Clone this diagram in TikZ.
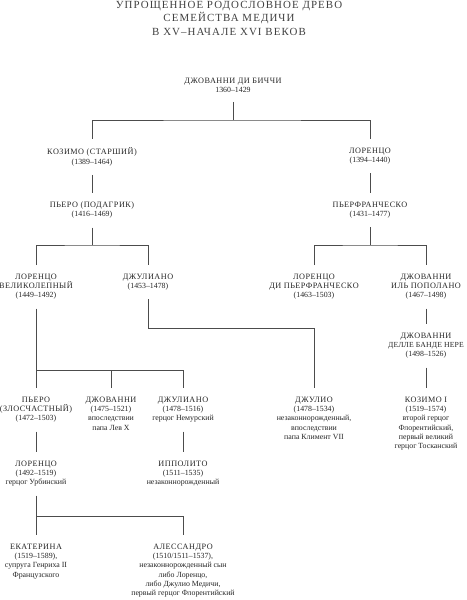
\documentclass[tikz,border=0pt]{standalone}
\usepackage{fontspec}
\setmainfont{Liberation Serif}
\newfontfamily\namefam[LetterSpace=6]{Liberation Serif}
\newfontfamily\titlefam[LetterSpace=10]{Liberation Serif}
\usetikzlibrary{positioning}

\newcommand{\nm}[1]{{\namefam\fontsize{7}{8}\selectfont #1}}
\newcommand{\nmtight}[1]{{\namefam\fontsize{6.6}{8}\selectfont
  \addfontfeature{LetterSpace=2}#1}}
\newcommand{\descfont}{\fontsize{6.7}{7.9}\selectfont}

\tikzset{
  person/.style={anchor=north, align=center, inner xsep=1pt, inner ysep=7.5pt,
    font=\descfont, text=black!85},
  famline/.style={draw=black!70, line width=0.65pt},
}

\begin{document}
\begin{tikzpicture}[x=0.03cm, y=-0.03cm]
  \useasboundingbox (0,0) rectangle (466,600);
  % Title
  \node[anchor=north, align=center, inner sep=0.5pt, text=black!75,
    font=\titlefam\fontsize{9.3}{11.6}\selectfont]
    (title) at (229,0) {УПРОЩЕННОЕ РОДОСЛОВНОЕ ДРЕВО\\
      СЕМЕЙСТВА МЕДИЧИ\\ В XV–НАЧАЛЕ XVI ВЕКОВ};

  % Generation 1
  \node[person] (bicci) at (233,69) {\nm{ДЖОВАННИ ДИ БИЧЧИ}\\ 1360–1429};
  % Generation 2
  \node[person] (kozimo) at (92,139) {\nm{КОЗИМО (СТАРШИЙ)}\\ (1389–1464)};
  \node[person] (lorenzo) at (370,139) {\nm{ЛОРЕНЦО}\\ (1394–1440)};
  % Generation 3
  \node[person] (piero) at (92,193) {\nm{ПЬЕРО (ПОДАГРИК)}\\ (1416–1469)};
  \node[person] (pierfr) at (370,193) {\nm{ПЬЕРФРАНЧЕСКО}\\ (1431–1477)};
  % Generation 4
  \node[person] (lorenzoM) at (36,265)
    {\nm{ЛОРЕНЦО}\\ \nm{ВЕЛИКОЛЕПНЫЙ}\\ (1449–1492)};
  \node[person] (giuliano) at (148,265) {\nm{ДЖУЛИАНО}\\ (1453–1478)};
  \node[person] (lorenzoP) at (314,265)
    {\nm{ЛОРЕНЦО}\\ \nm{ДИ ПЬЕРФРАНЧЕСКО}\\ (1463–1503)};
  \node[person] (giovP) at (426,265)
    {\nm{ДЖОВАННИ}\\ \nm{ИЛЬ ПОПОЛАНО}\\ (1467–1498)};
  \node[person] (giovB) at (426,324)
    {\nm{ДЖОВАННИ}\\ \nmtight{ДЕЛЛЕ БАНДЕ НЕРЕ}\\ (1498–1526)};
  % Generation 5
  \node[person] (pieroS) at (36,388)
    {\nm{ПЬЕРО}\\ \nm{(ЗЛОСЧАСТНЫЙ)}\\ (1472–1503)};
  \node[person] (giovL) at (111,388)
    {\nm{ДЖОВАННИ}\\ (1475–1521)\\ впоследствии\\ папа Лев X};
  \node[person] (giulN) at (183,388)
    {\nm{ДЖУЛИАНО}\\ (1478–1516)\\ герцог Немурский};
  \node[person] (giulio) at (314,388)
    {\nm{ДЖУЛИО}\\ (1478–1534)\\ незаконнорожденный,\\ впоследствии\\
     папа Климент VII};
  \node[person] (kozimo1) at (426,388)
    {\nm{КОЗИМО I}\\ (1519–1574)\\ второй герцог\\ Флорентийский,\\
     первый великий\\ герцог Тосканский};
  % Generation 6
  \node[person] (lorenzoU) at (36,452)
    {\nm{ЛОРЕНЦО}\\ (1492–1519)\\ герцог Урбинский};
  \node[person] (ippolito) at (183,452)
    {\nm{ИППОЛИТО}\\ (1511–1535)\\ незаконнорожденный};
  % Generation 7
  \node[person] (ekaterina) at (36,535)
    {\nm{ЕКАТЕРИНА}\\ (1519–1589),\\ супруга Генриха II\\ Французского};
  \node[person] (alessandro) at (183,535)
    {\nm{АЛЕССАНДРО}\\ (1510/1511–1537),\\ незаконнорожденный сын\\
     либо Лоренцо,\\ либо Джулио Медичи,\\ первый герцог Флорентийский};

  % Junctions
  \coordinate (j0) at (233,120);
  \coordinate (j1) at (92,245);
  \coordinate (j2) at (370,245);
  \coordinate (j3) at (36,370);
  \coordinate (j4) at (148,328);
  \coordinate (j5) at (36,516);

  % Connectors
  \draw[famline] (bicci.south) -- (j0);
  \draw[famline] (kozimo.north) |- (j0) -| (lorenzo.north);
  \draw[famline] (kozimo.south) -- (piero.north);
  \draw[famline] (lorenzo.south) -- (pierfr.north);
  \draw[famline] (piero.south) -- (j1);
  \draw[famline] (lorenzoM.north) |- (j1) -| (giuliano.north);
  \draw[famline] (pierfr.south) -- (j2);
  \draw[famline] (lorenzoP.north) |- (j2) -| (giovP.north);
  \draw[famline] (giovP.south) -- (giovB.north);
  \draw[famline] (lorenzoM.south) -- (pieroS.north);
  \draw[famline] (j3) -| (giulN.north);
  \draw[famline] (giovL.north) -- (giovL.north |- j3);
  \draw[famline] (giuliano.south) -- (j4) -| (giulio.north);
  \draw[famline] (giovB.south) -- (kozimo1.north);
  \draw[famline] (pieroS.south) -- (lorenzoU.north);
  \draw[famline] (giulN.south) -- (ippolito.north);
  \draw[famline] (lorenzoU.south) -- (ekaterina.north);
  \draw[famline] (j5) -| (alessandro.north);
\end{tikzpicture}
\end{document}
